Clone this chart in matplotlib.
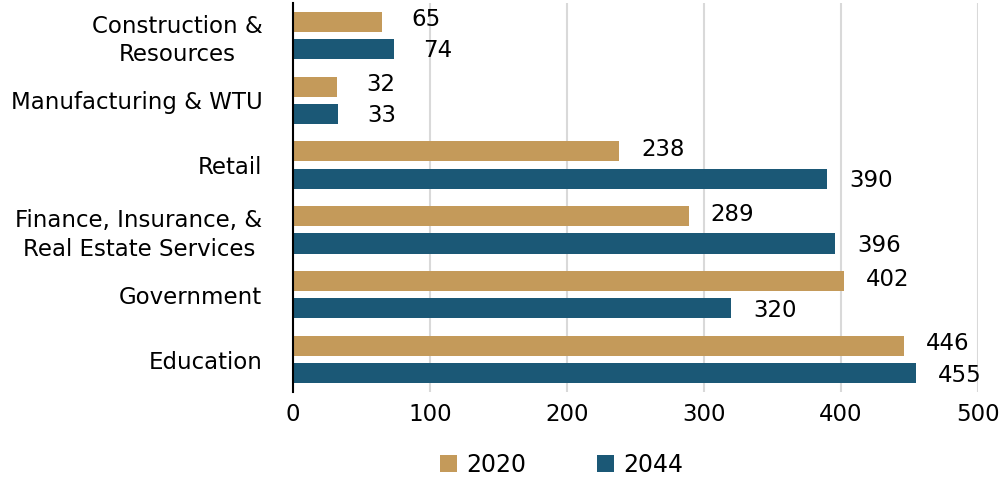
import numpy as np
import matplotlib.pyplot as plt

plt.rcParams['font.family'] = ['DejaVu Sans']

categories = ["Construction &\nResources", "Manufacturing & WTU", "Retail",
              "Finance, Insurance, &\nReal Estate Services", "Government", "Education"]
vals_2020 = [65, 32, 238, 289, 402, 446]
vals_2044 = [74, 33, 390, 396, 320, 455]
xticks = [0, 100, 200, 300, 400, 500]

gold = "#C49A5A"
blue = "#1B5876"

fig = plt.figure(figsize=(10.03, 4.93), dpi=100)
ax = fig.add_axes([0.292, 0.205, 0.683, 0.789])

y = np.arange(len(categories))
h = 0.31
off = 0.21
ax.barh(y - off, vals_2020, height=h, color=gold, label="2020", zorder=3)
ax.barh(y + off, vals_2044, height=h, color=blue, label="2044", zorder=3)

for yi, v in zip(y, vals_2020):
    ax.text(v + 32, yi - off - 0.03, str(v), ha="center", va="center", fontsize=16.5)
for yi, v in zip(y, vals_2044):
    ax.text(v + 32, yi + off + 0.03, str(v), ha="center", va="center", fontsize=16.5)

ax.set_ylim(len(categories) - 0.5, -0.5)
ax.set_xlim(0, 500)
ax.set_yticks(y)
ax.set_yticklabels(categories, fontsize=16.5, linespacing=1.3, ha="right",
                   multialignment="center")
ax.tick_params(axis="y", length=0, pad=22)
ax.set_xticks(xticks)
ax.set_xticklabels([str(t) for t in xticks], fontsize=16.5)
ax.tick_params(axis="x", length=0, pad=8)

ax.grid(axis="x", color="#D9D9D9", linewidth=1.5, zorder=0)
for s in ["top", "right", "bottom"]:
    ax.spines[s].set_visible(False)
ax.spines["left"].set_color("black")
ax.spines["left"].set_linewidth(1.5)
ax.spines["left"].set_zorder(4)

fig.legend(loc="lower center", bbox_to_anchor=(0.56, -0.01), ncol=2, frameon=False,
           fontsize=17, handlelength=0.7, handleheight=0.7, columnspacing=3.0,
           handletextpad=0.4)

fig.savefig("out.png", dpi=100)
